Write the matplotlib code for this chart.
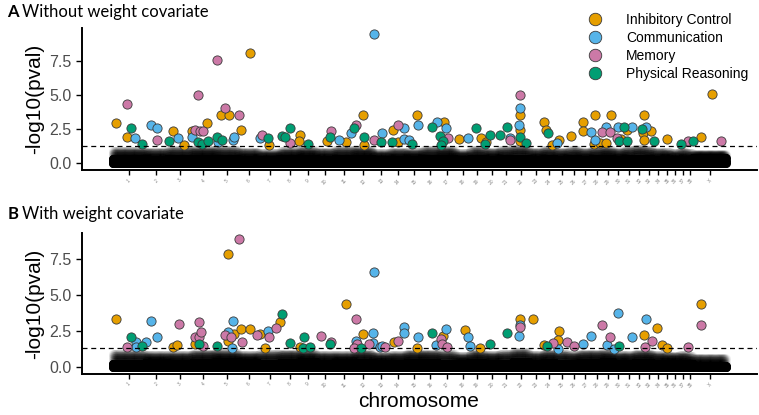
import numpy as np
import matplotlib.pyplot as plt
from matplotlib.lines import Line2D

plt.rcParams['font.family'] = ['Liberation Sans', 'DejaVu Sans']

# dog chromosomes (Mb)
chrom_names = [str(i) for i in range(1, 39)] + ['X']
chrom_len = [122.7, 85.4, 91.9, 88.3, 88.9, 77.6, 80.9, 74.1, 61.1, 69.3,
             74.4, 72.5, 63.2, 61.0, 64.2, 59.6, 64.3, 55.8, 53.7, 58.1,
             50.9, 61.4, 52.3, 47.7, 51.6, 39.0, 45.9, 41.2, 41.8, 40.2,
             39.8, 38.8, 31.4, 42.1, 26.5, 30.8, 30.9, 23.9, 123.9]

# non-significant SNP cloud: top of the dense band and of the faint band
core_a = [0.3, 0.25, 0.3, 0.35, 0.3, 0.25, 0.25, 0.3, 0.35, 0.25,
          0.3, 0.35, 0.25, 0.25, 0.25, 0.3, 0.35, 0.25, 0.3, 0.25,
          0.3, 0.35, 0.25, 0.3, 0.25, 0.3, 0.25, 0.3, 0.35, 0.25,
          0.3, 0.35, 0.3, 0.25, 0.25, 0.25, 0.25, 0.2, 0.4]
fuzz_a = [0.9, 0.85, 0.95, 1.0, 0.95, 0.85, 0.75, 0.9, 0.95, 0.85,
          0.95, 1.0, 0.75, 0.85, 0.8, 0.95, 1.0, 0.75, 0.95, 0.85,
          0.95, 1.05, 0.85, 0.95, 0.85, 0.95, 0.85, 0.95, 1.0, 0.85,
          0.95, 1.05, 0.95, 0.85, 0.8, 0.75, 0.85, 0.75, 0.7]
core_b = [0.25, 0.3, 0.25, 0.3, 0.35, 0.3, 0.25, 0.3, 0.35, 0.25,
          0.3, 0.3, 0.25, 0.25, 0.3, 0.3, 0.25, 0.25, 0.3, 0.25,
          0.25, 0.35, 0.25, 0.3, 0.25, 0.25, 0.3, 0.3, 0.35, 0.25,
          0.25, 0.3, 0.3, 0.25, 0.25, 0.25, 0.25, 0.2, 0.1]
fuzz_b = [0.95, 0.85, 0.85, 0.95, 1.0, 0.85, 0.9, 0.95, 1.0, 0.85,
          0.85, 0.95, 0.8, 0.85, 0.95, 0.95, 0.9, 0.75, 0.95, 0.85,
          0.9, 1.05, 0.85, 0.95, 0.9, 0.85, 0.95, 0.95, 1.0, 0.85,
          0.85, 0.95, 0.95, 0.85, 0.8, 0.8, 0.85, 0.75, 0.65]

# significant SNPs: cumulative genome position (Mb) and -log10(p)
# panel A, without weight covariate
ic_a_pos = [14, 56, 230, 271, 302, 358, 411, 440, 486, 522, 592, 709, 706, 815,
            884, 948, 952, 1064, 1081, 1155, 1256, 1315, 1398, 1418, 1547, 1547,
            1544, 1636, 1644, 1666, 1693, 1738, 1785, 1785, 1829, 1826, 1847,
            1871, 1890, 1927, 1950, 2017, 2012, 2042, 2017, 2102, 2231, 2273]
ic_a_val = [2.96, 1.94, 2.35, 1.36, 2.35, 2.96, 3.50, 3.50, 2.45, 8.06, 1.36,
            2.08, 1.63, 1.63, 1.57, 3.50, 1.36, 2.45, 1.57, 3.50, 2.99, 1.75,
            1.87, 1.57, 3.50, 2.45, 1.63, 2.99, 2.45, 1.36, 1.68, 2.01, 2.99,
            2.38, 3.50, 1.43, 1.48, 1.48, 3.50, 1.75, 2.45, 3.50, 2.19, 2.33,
            1.70, 1.75, 1.92, 5.05]
com_a_pos = [85, 145, 168, 249, 302, 401, 455, 461, 560, 857, 904, 993, 1022,
             1104, 1107, 1123, 1157, 1231, 1264, 1350, 1507, 1544, 1541, 1687,
             1815, 1829, 1871, 1917, 1971, 2024]
com_a_val = [1.82, 2.79, 2.62, 1.87, 1.94, 1.53, 1.68, 1.94, 1.82, 1.68, 2.23,
             9.42, 2.23, 2.57, 1.75, 1.68, 2.77, 3.03, 2.59, 1.82, 1.87, 4.03,
             2.79, 1.50, 2.30, 1.70, 2.65, 2.65, 2.65, 2.65]
mem_a_pos = [56, 168, 312, 331, 342, 323, 395, 426, 479, 566, 671, 828, 923,
             993, 1083, 1271, 1507, 1547, 1857, 1886, 1914, 2182, 2307]
mem_a_val = [4.30, 1.68, 2.43, 2.35, 2.35, 5.00, 7.51, 4.01, 3.50, 2.08, 1.48,
             2.38, 2.77, 1.72, 2.77, 1.87, 1.68, 5.00, 2.26, 2.26, 1.87, 1.60,
             1.60]
phy_a_pos = [69, 112, 213, 322, 338, 362, 397, 416, 588, 642, 654, 672, 743,
             825, 917, 952, 1018, 1061, 1136, 1211, 1241, 1254, 1246, 1379,
             1412, 1431, 1468, 1495, 1547, 1567, 1650, 1922, 1939, 1951, 2007,
             2052, 2156, 2201]
phy_a_val = [2.55, 1.41, 1.63, 1.57, 1.41, 1.63, 1.94, 1.72, 1.87, 1.99, 1.94,
             2.57, 1.41, 1.94, 2.62, 1.94, 1.57, 1.57, 1.41, 2.65, 1.99, 1.65,
             1.36, 2.62, 1.41, 2.08, 2.08, 2.65, 1.90, 1.50, 2.19, 1.60, 2.65,
             1.63, 2.52, 1.60, 1.41, 1.60]

# panel B, with weight covariate
ic_b_pos = [14, 230, 244, 311, 439, 436, 461, 488, 522, 559, 578, 634, 709, 886,
            948, 1066, 1154, 1254, 1336, 1392, 1547, 1593, 1636, 1692, 1691,
            2017, 2066, 2083, 2103, 2231]
ic_b_val = [3.33, 1.41, 1.55, 1.62, 7.89, 1.85, 2.33, 2.68, 2.68, 2.29, 1.34,
            3.17, 1.41, 4.40, 2.29, 1.78, 1.34, 2.19, 2.59, 1.36, 3.33, 3.33,
            1.57, 2.54, 1.88, 2.24, 2.71, 1.55, 1.36, 4.40]
com_b_pos = [87, 90, 126, 147, 168, 439, 458, 454, 591, 923, 988, 993, 988,
             1015, 1021, 1107, 1104, 1157, 1228, 1264, 1349, 1357, 1544, 1541,
             1688, 1783, 1815, 1877, 1903, 1918, 1972, 2024]
com_b_val = [1.78, 1.43, 1.78, 3.24, 2.08, 2.47, 3.24, 1.36, 2.52, 1.83, 2.36,
             6.64, 1.71, 1.43, 1.50, 2.82, 2.36, 2.13, 1.55, 2.66, 2.13, 1.50,
             2.94, 2.19, 1.29, 1.62, 2.19, 1.55, 1.29, 3.79, 2.13, 3.33]
mem_b_pos = [56, 251, 311, 326, 326, 334, 344, 481, 425, 450, 490, 548, 592,
             621, 792, 828, 923, 928, 917, 971, 1032, 1083, 1244, 1251, 1269,
             1544, 1669, 1725, 1749, 1856, 1886, 2019, 2046, 2183, 2231]
mem_b_val = [1.41, 3.03, 2.08, 2.08, 3.17, 2.47, 1.48, 8.93, 2.24, 2.08, 1.76,
             2.24, 2.13, 2.73, 2.17, 1.78, 3.35, 1.62, 1.34, 1.62, 1.41, 1.83,
             1.97, 1.62, 1.41, 2.78, 1.67, 1.78, 1.50, 2.94, 2.13, 1.41, 1.83,
             1.41, 2.94]
phy_b_pos = [69, 113, 326, 397, 643, 672, 725, 722, 749, 825, 941, 1211, 1431,
             1495, 1649, 1920]
phy_b_val = [2.08, 1.50, 1.64, 1.48, 3.72, 1.67, 2.08, 1.34, 1.43, 1.62, 1.34,
             2.36, 1.62, 2.36, 1.50, 1.50]

traits = ['Inhibitory Control', 'Communication', 'Memory', 'Physical Reasoning']
colors = ['#E69F00', '#56B4E9', '#CC79A7', '#009E73']

starts = np.concatenate([[0], np.cumsum(chrom_len)[:-1]])
mids = starts + np.array(chrom_len) / 2
genome_end = float(np.sum(chrom_len))


def draw_cloud(ax, core, fuzz):
    for s, L, c, f in zip(starts, chrom_len, core, fuzz):
        xs = np.arange(s, s + L, 2.0)
        for lev in np.linspace(0, c, 3):
            ax.scatter(xs, np.full_like(xs, lev), s=42, c='black', lw=0,
                       zorder=2)
        for lev in np.linspace(c, f, 6)[1:]:
            ax.scatter(xs, np.full_like(xs, lev), s=42, c='black', lw=0,
                       alpha=0.035, zorder=2)


def panel(ax, sets, core, fuzz, ylim):
    draw_cloud(ax, core, fuzz)
    for (pos, val), col in zip(sets, colors):
        ax.scatter(pos, val, s=44, c=col, edgecolors='#3a3a3a', linewidths=0.6,
                   zorder=3)
    ax.axhline(-np.log10(0.05), color='black', ls=(0, (4, 3)), lw=0.9, zorder=4)
    ax.set_xlim(-0.05 * genome_end, 1.05 * genome_end)
    ax.set_ylim(*ylim)
    ax.set_yticks([0, 2.5, 5, 7.5])
    ax.set_yticklabels(['0.0', '2.5', '5.0', '7.5'])
    ax.set_xticks(mids)
    ax.set_xticklabels(chrom_names, rotation=45, fontsize=3.5, color='#888888')
    ax.tick_params(axis='y', labelsize=11.5, labelcolor='#4d4d4d', length=4,
                   width=1)
    ax.tick_params(axis='x', length=3.5, width=1, pad=2)
    for sp in ['top', 'right']:
        ax.spines[sp].set_visible(False)
    for sp in ['left', 'bottom']:
        ax.spines[sp].set_linewidth(1.4)
    ax.set_ylabel('-log10(pval)', fontsize=15, labelpad=4)


fig = plt.figure(figsize=(7.59, 4.15), dpi=100)
ax_a = fig.add_axes([0.108, 0.590, 0.889, 0.342])
ax_b = fig.add_axes([0.108, 0.0988, 0.889, 0.340])

panel(ax_a, [(ic_a_pos, ic_a_val), (com_a_pos, com_a_val),
             (mem_a_pos, mem_a_val), (phy_a_pos, phy_a_val)],
      core_a, fuzz_a, (-0.49, 9.86))
panel(ax_b, [(ic_b_pos, ic_b_val), (com_b_pos, com_b_val),
             (mem_b_pos, mem_b_val), (phy_b_pos, phy_b_val)],
      core_b, fuzz_b, (-0.47, 9.33))
fig.text(0.552, 0.032, 'chromosome', fontsize=15, ha='center', va='center')

handles = [Line2D([], [], ls='', marker='o', markersize=9, markerfacecolor=c,
                  markeredgecolor='#3a3a3a', markeredgewidth=0.6) for c in colors]
fig.legend(handles, traits, loc='upper left', bbox_to_anchor=(0.766, 0.985),
           frameon=False, fontsize=10, handlelength=1, handletextpad=1.7,
           labelspacing=0.28, borderpad=0)

fig.text(0.010, 0.972, 'A', fontsize=12, weight='bold', family='Lato',
         va='center')
fig.text(0.029, 0.972, 'Without weight covariate', fontsize=12, family='Lato',
         va='center')
fig.text(0.010, 0.484, 'B', fontsize=12, weight='bold', family='Lato',
         va='center')
fig.text(0.029, 0.484, 'With weight covariate', fontsize=12, family='Lato',
         va='center')

fig.savefig('out.png', dpi=100)
